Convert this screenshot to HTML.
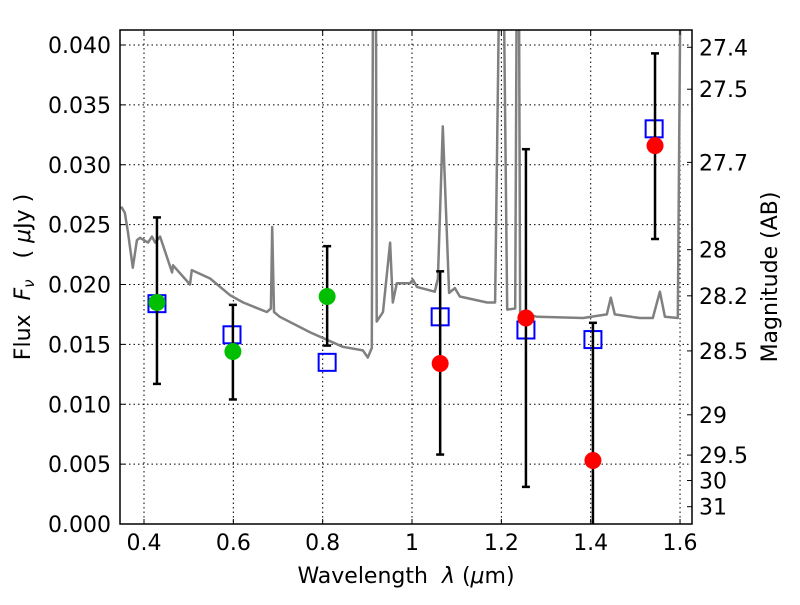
<!DOCTYPE html>
<html><head><meta charset="utf-8"><style>
body{margin:0;background:#fff;}
svg text{font-family:"DejaVu Sans","Liberation Sans",sans-serif;fill:#000;white-space:pre;}
</style></head><body>
<svg id="chart" width="800" height="600" viewBox="0 0 800 600" xmlns="http://www.w3.org/2000/svg">
<rect x="0" y="0" width="800" height="600" fill="#fff"/>
<g id="grid"></g>
<g id="spec"></g>
<g id="marks"></g>
<g id="axes"></g>
<text x="406" y="583" font-size="22" text-anchor="middle">Wavelength&#160;&#160;<tspan font-style="italic">λ</tspan> (<tspan font-style="italic">μ</tspan>m)</text>
<text transform="translate(30,277) rotate(-90)" font-size="22" text-anchor="middle">Flux&#160;&#160;<tspan font-style="italic">F<tspan font-size="15" dy="4">ν</tspan></tspan><tspan dy="-4">&#160;&#160;&#160;( <tspan font-style="italic">μ</tspan>Jy )</tspan></text>
<text transform="translate(777,277) rotate(-90)" font-size="22" text-anchor="middle">Magnitude (AB)</text>
</svg>
<script>
const specWl=[0.349,0.357,0.364,0.375,0.384,0.391,0.409,0.418,0.425,0.436,0.463,0.465,0.503,0.507,0.548,0.593,0.622,0.675,0.684,0.687,0.691,0.704,0.772,0.845,0.890,0.901,0.910,0.913,0.919,0.921,0.935,0.951,0.957,0.966,0.995,1.002,1.011,1.051,1.058,1.069,1.083,1.096,1.107,1.168,1.186,1.197,1.204,1.213,1.231,1.235,1.239,1.242,1.280,1.383,1.436,1.445,1.454,1.510,1.539,1.555,1.566,1.595,1.602,1.63];
const specFlux=[0.0265,0.0260,0.0244,0.0214,0.0237,0.0239,0.0235,0.0240,0.0235,0.0240,0.0210,0.0216,0.0200,0.0212,0.0205,0.0191,0.0185,0.0177,0.0180,0.0248,0.0177,0.0173,0.0160,0.0148,0.0145,0.0139,0.0147,0.05,0.05,0.0169,0.0177,0.0235,0.0185,0.0201,0.0201,0.0204,0.0198,0.0194,0.0205,0.0332,0.0193,0.0197,0.0190,0.0185,0.0185,0.05,0.05,0.0179,0.0180,0.05,0.05,0.0177,0.0173,0.0172,0.0175,0.0189,0.0175,0.0172,0.0172,0.0194,0.0173,0.0172,0.05,0.05];
const greenWl=[0.429,0.599,0.810];
const greenFlux=[0.0185,0.0144,0.0190];
const greenHi=[0.0256,0.0183,0.0232];
const greenLo=[0.0117,0.0104,0.0149];
const redWl=[1.063,1.255,1.405,1.544];
const redFlux=[0.0134,0.0172,0.0053,0.0316];
const redHi=[0.0211,0.0313,0.0168,0.0393];
const redLo=[0.0058,0.0031,-0.001,0.0238];
const boxWl=[0.429,0.597,0.810,1.063,1.255,1.405,1.542];
const boxFlux=[0.0184,0.0158,0.0135,0.0173,0.0162,0.0154,0.0330];
const xTicks=[0.4,0.6,0.8,1.0,1.2,1.4,1.6];
const xTickLabels=["0.4","0.6","0.8","1","1.2","1.4","1.6"];
const yTicks=[0,0.005,0.010,0.015,0.020,0.025,0.030,0.035,0.040];
const yTickLabels=["0.000","0.005","0.010","0.015","0.020","0.025","0.030","0.035","0.040"];
const magTicks=[27.4,27.5,27.7,28,28.2,28.5,29,29.5,30,31];

const L=120,R=692,T=30,B=524;
const X=w=>144+(w-0.4)*446.7;
const Y=f=>B-f*11975;
const NS="http://www.w3.org/2000/svg";
function mk(parent,tag,attrs){const e=document.createElementNS(NS,tag);for(const k in attrs)e.setAttribute(k,attrs[k]);parent.appendChild(e);return e;}
const grid=document.getElementById('grid'),spec=document.getElementById('spec'),marks=document.getElementById('marks'),axes=document.getElementById('axes');

xTicks.forEach((t,i)=>{
  const g=mk(grid,'line',{x1:X(t),x2:X(t),y1:T,y2:B,stroke:'#000','stroke-width':1,'stroke-dasharray':'1.5,3'});
  
  
  const a=mk(axes,'line',{x1:X(t),x2:X(t),y1:B,y2:B-5,stroke:'#000'});
  
  
  const b=mk(axes,'line',{x1:X(t),x2:X(t),y1:T,y2:T+5,stroke:'#000'});
  
  
  const tx=mk(axes,'text',{x:X(t),y:B+26,'font-size':22,'text-anchor':'middle'});
  tx.textContent=xTickLabels[i];
  
  
});
yTicks.forEach((t,i)=>{
  const g=mk(grid,'line',{x1:L,x2:R,y1:Y(t),y2:Y(t),stroke:'#000','stroke-width':1,'stroke-dasharray':'1.5,3'});
  
  
  const a=mk(axes,'line',{x1:L,x2:L+5,y1:Y(t),y2:Y(t),stroke:'#000'});
  
  
  const tx=mk(axes,'text',{x:L-9,y:Y(t)+8,'font-size':22,'text-anchor':'end'});
  tx.textContent=yTickLabels[i];
  
  
});
magTicks.forEach(m=>{
  const f=Math.pow(10,(23.9-m)/2.5);const y=Y(f);
  const a=mk(axes,'line',{x1:R,x2:R-5,y1:y,y2:y,stroke:'#000'});
  
  
  const tx=mk(axes,'text',{x:R+7,y:y+8,'font-size':22});
  tx.textContent=String(m);
  
  
});

const defs=mk(spec,'clipPath',{id:'clip'});mk(defs,'rect',{x:L,y:T,width:R-L,height:B-T});
const pts=specWl.map((w,i)=>X(w).toFixed(1)+','+Y(specFlux[i]).toFixed(1)).join(' ');
const pl=mk(spec,'polyline',{points:pts,fill:'none',stroke:'#808080','stroke-width':2.5,'stroke-linejoin':'round','clip-path':'url(#clip)'});



function errbar(w,hi,lo){
  const x=X(w),y1=Y(hi),y2=Math.min(Y(lo),B);
  const g=mk(marks,'g',{stroke:'#000','stroke-width':2.5});
  
  
  mk(g,'line',{x1:x,x2:x,y1:y1,y2:y2});
  mk(g,'line',{x1:x-4,x2:x+4,y1:y1,y2:y1});
  if(Y(lo)<=B) mk(g,'line',{x1:x-4,x2:x+4,y1:y2,y2:y2});
}
boxWl.forEach((w,i)=>{
  const r=mk(marks,'rect',{x:X(w)-8.5,y:Y(boxFlux[i])-8.5,width:17,height:17,fill:'none',stroke:'#0000ff','stroke-width':2});
  
  
});
greenWl.forEach((w,i)=>errbar(w,greenHi[i],greenLo[i]));
redWl.forEach((w,i)=>errbar(w,redHi[i],redLo[i]));
greenWl.forEach((w,i)=>{
  const c=mk(marks,'circle',{cx:X(w),cy:Y(greenFlux[i]),r:8.5,fill:'#00bf00'});
  
  
});
redWl.forEach((w,i)=>{
  const c=mk(marks,'circle',{cx:X(w),cy:Y(redFlux[i]),r:8.5,fill:'#ff0000'});
  
  
});
const fr=mk(axes,'rect',{x:L,y:T,width:R-L,height:B-T,fill:'none',stroke:'#000','stroke-width':1.5});


</script>
</body></html>
